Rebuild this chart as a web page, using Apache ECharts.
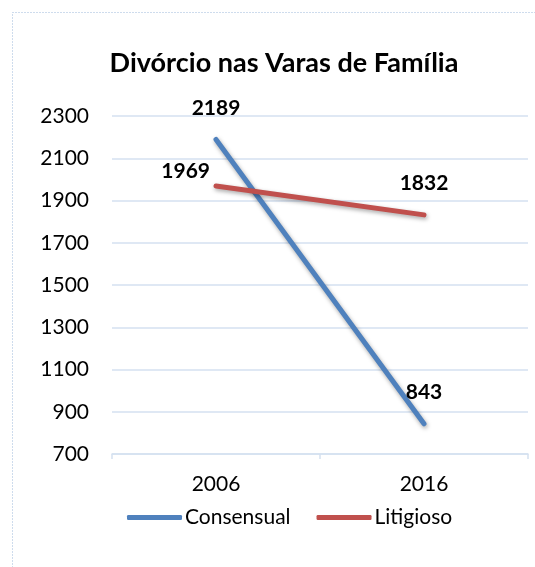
<!DOCTYPE html>
<html>
<head>
<meta charset="utf-8">
<script src="https://cdn.jsdelivr.net/npm/echarts@6/dist/echarts.min.js"></script>
<style>
  html, body { margin: 0; padding: 0; background: #fff; }
  #chart-container { width: 535px; height: 567px; }
</style>
</head>
<body>
<div id="chart-container"></div>
<script>
var years = ["2006", "2016"];
var consensual = [2189, 843];
var litigioso = [1969, 1832];
var yTicks = { min: 700, max: 2300, step: 200 };

var dom = document.getElementById("chart-container");
var myChart = echarts.init(dom, null, { renderer: "canvas" });

var font = "Lato";
var gridColor = "#D5E1F0";

var lineShadow = {
  shadowColor: "rgba(0,0,0,0.35)",
  shadowBlur: 4,
  shadowOffsetX: 1,
  shadowOffsetY: 2,
};

var valueLabel = {
  show: true,
  position: "top",
  distance: 20,
  fontFamily: font,
  fontSize: 21,
  fontWeight: "bold",
  color: "#000",
};

// the 2006 Litigioso label sits to the left of its point
var litigiosoData = litigioso.map(function (v, i) {
  if (i === 0) {
    return { value: v, label: { position: "left", distance: 5, offset: [0, -15] } };
  }
  return v;
});

var option = {
  animation: false,
  title: {
    text: "Divórcio nas Varas de Família",
    left: 279,
    textAlign: "center",
    top: 45,
    textStyle: { fontFamily: font, fontSize: 27, fontWeight: "bold", color: "#000" },
  },
  graphic: [
    {
      type: "rect",
      shape: { x: 12.5, y: 12.5, width: 600, height: 600 },
      style: { fill: "none", stroke: "#9DB8DB", lineWidth: 1, lineDash: [1, 2] },
      silent: true,
    },
  ],
  grid: { left: 112, right: 7, top: 116, bottom: 113 },
  legend: {
    bottom: 34,
    left: 122,
    itemWidth: 55,
    itemHeight: 5,
    itemGap: 26,
    icon: "roundRect",
    textStyle: { fontFamily: font, fontSize: 21, color: "#000", padding: [0, 0, 0, -2] },
    data: ["Consensual", "Litigioso"],
  },
  xAxis: {
    type: "category",
    data: years,
    boundaryGap: true,
    axisLine: { lineStyle: { color: gridColor, width: 1.5 } },
    axisTick: { show: true, length: 5, lineStyle: { color: gridColor, width: 1.5 } },
    axisLabel: { fontFamily: font, fontSize: 21, color: "#000", margin: 20 },
  },
  yAxis: {
    type: "value",
    min: yTicks.min,
    max: yTicks.max,
    interval: yTicks.step,
    axisLine: { show: false },
    axisTick: { show: false },
    axisLabel: {
      fontFamily: font,
      fontSize: 21,
      color: "#000",
      margin: 23,
      formatter: function (v) { return String(v); },
    },
    splitLine: { lineStyle: { color: gridColor, width: 1.5 } },
  },
  series: [
    {
      name: "Consensual",
      type: "line",
      data: consensual,
      symbol: "circle",
      symbolSize: 2,
      showSymbol: true,
      itemStyle: { color: "#4F81BD" },
      lineStyle: Object.assign({ width: 5, color: "#4F81BD", cap: "round" }, lineShadow),
      label: valueLabel,
    },
    {
      name: "Litigioso",
      type: "line",
      data: litigiosoData,
      symbol: "circle",
      symbolSize: 2,
      showSymbol: true,
      itemStyle: { color: "#C0504D" },
      lineStyle: Object.assign({ width: 5, color: "#C0504D", cap: "round" }, lineShadow),
      label: valueLabel,
    },
  ],
};

myChart.setOption(option);
window.addEventListener("resize", myChart.resize);
</script>
</body>
</html>
